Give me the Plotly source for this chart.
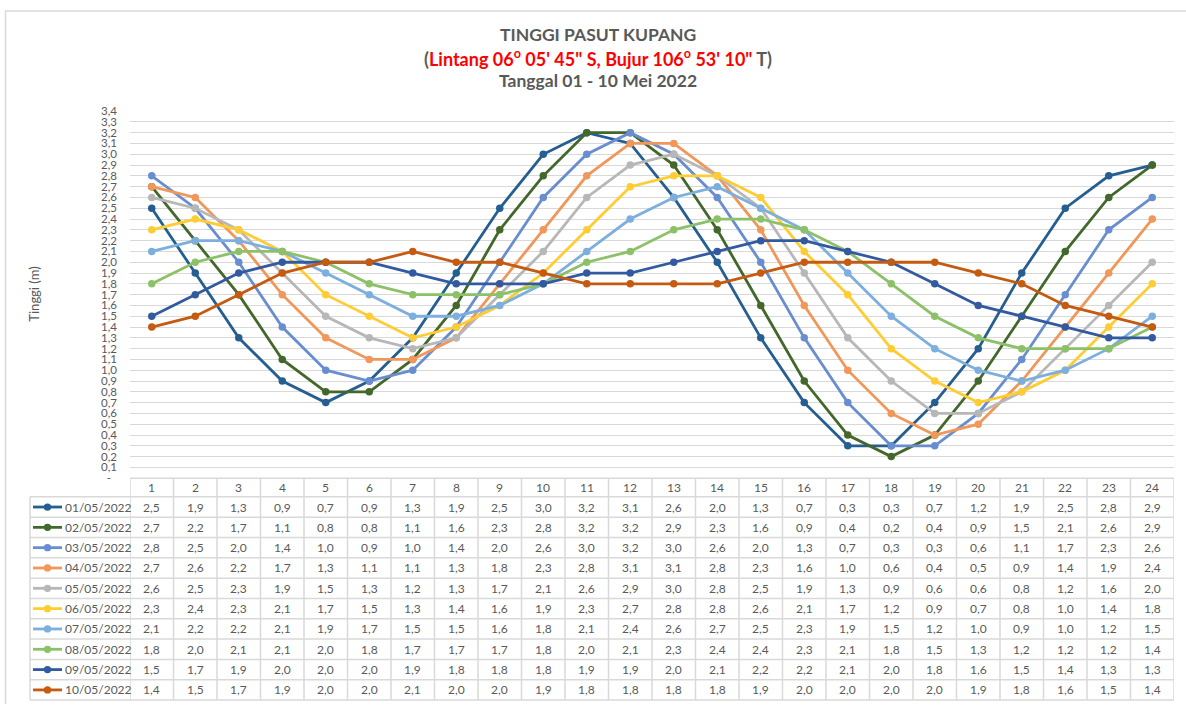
import plotly.graph_objects as go

# ---- data: hourly tide height (m), Kupang, 01-10 May 2022 ----
hours = list(range(1, 25))
dates = ["01/05/2022", "02/05/2022", "03/05/2022", "04/05/2022", "05/05/2022",
         "06/05/2022", "07/05/2022", "08/05/2022", "09/05/2022", "10/05/2022"]

h_0105 = [2.5, 1.9, 1.3, 0.9, 0.7, 0.9, 1.3, 1.9, 2.5, 3.0, 3.2, 3.1, 2.6, 2.0, 1.3, 0.7, 0.3, 0.3, 0.7, 1.2, 1.9, 2.5, 2.8, 2.9]
h_0205 = [2.7, 2.2, 1.7, 1.1, 0.8, 0.8, 1.1, 1.6, 2.3, 2.8, 3.2, 3.2, 2.9, 2.3, 1.6, 0.9, 0.4, 0.2, 0.4, 0.9, 1.5, 2.1, 2.6, 2.9]
h_0305 = [2.8, 2.5, 2.0, 1.4, 1.0, 0.9, 1.0, 1.4, 2.0, 2.6, 3.0, 3.2, 3.0, 2.6, 2.0, 1.3, 0.7, 0.3, 0.3, 0.6, 1.1, 1.7, 2.3, 2.6]
h_0405 = [2.7, 2.6, 2.2, 1.7, 1.3, 1.1, 1.1, 1.3, 1.8, 2.3, 2.8, 3.1, 3.1, 2.8, 2.3, 1.6, 1.0, 0.6, 0.4, 0.5, 0.9, 1.4, 1.9, 2.4]
h_0505 = [2.6, 2.5, 2.3, 1.9, 1.5, 1.3, 1.2, 1.3, 1.7, 2.1, 2.6, 2.9, 3.0, 2.8, 2.5, 1.9, 1.3, 0.9, 0.6, 0.6, 0.8, 1.2, 1.6, 2.0]
h_0605 = [2.3, 2.4, 2.3, 2.1, 1.7, 1.5, 1.3, 1.4, 1.6, 1.9, 2.3, 2.7, 2.8, 2.8, 2.6, 2.1, 1.7, 1.2, 0.9, 0.7, 0.8, 1.0, 1.4, 1.8]
h_0705 = [2.1, 2.2, 2.2, 2.1, 1.9, 1.7, 1.5, 1.5, 1.6, 1.8, 2.1, 2.4, 2.6, 2.7, 2.5, 2.3, 1.9, 1.5, 1.2, 1.0, 0.9, 1.0, 1.2, 1.5]
h_0805 = [1.8, 2.0, 2.1, 2.1, 2.0, 1.8, 1.7, 1.7, 1.7, 1.8, 2.0, 2.1, 2.3, 2.4, 2.4, 2.3, 2.1, 1.8, 1.5, 1.3, 1.2, 1.2, 1.2, 1.4]
h_0905 = [1.5, 1.7, 1.9, 2.0, 2.0, 2.0, 1.9, 1.8, 1.8, 1.8, 1.9, 1.9, 2.0, 2.1, 2.2, 2.2, 2.1, 2.0, 1.8, 1.6, 1.5, 1.4, 1.3, 1.3]
h_1005 = [1.4, 1.5, 1.7, 1.9, 2.0, 2.0, 2.1, 2.0, 2.0, 1.9, 1.8, 1.8, 1.8, 1.8, 1.9, 2.0, 2.0, 2.0, 2.0, 1.9, 1.8, 1.6, 1.5, 1.4]

series = [h_0105, h_0205, h_0305, h_0405, h_0505, h_0605, h_0705, h_0805, h_0905, h_1005]
colors = ["#255E91", "#43682B", "#698ED0", "#F1975A", "#B7B7B7",
          "#FFCD33", "#7CAFDD", "#8CC168", "#335AA1", "#C55A11"]

y_max = 3.4
y_step = 0.1

# ---- layout geometry (pixels) ----
W, H = 1186, 710
PLOT_L, PLOT_R, PLOT_T, PLOT_B = 130, 1174, 106, 480
HEAD_B = 499          # bottom of the hour header row
ROW_H = 20.7          # table row height
KEY_L = 30            # left edge of the series-name column
TITLE_X = 598         # horizontal centre of the title block

FONT = "Lato, Carlito, Calibri, sans-serif"
TXT = "#595959"
GRID = "#D9D9D9"


def px(x):
    return x / W


def py(y):
    return 1 - y / H


def fmt(v):
    return f"{v:.1f}".replace(".", ",")


def label(x, y, text, xref="paper", size=12, xanchor="center", **kw):
    return dict(x=x, y=y, xref=xref, yref="paper", text=text, showarrow=False,
                xanchor=xanchor, yanchor="middle",
                font=dict(family=FONT, size=size, color=kw.pop("color", TXT)), **kw)


fig = go.Figure()

for name, vals, col in zip(dates, series, colors):
    fig.add_trace(go.Scatter(
        x=hours, y=vals, mode="lines+markers", name=name,
        line=dict(color=col, width=2.8),
        marker=dict(size=7.5, color=col),
        hoverinfo="skip",
    ))

n_ticks = int(round(y_max / y_step)) + 1
yvals = [round(i * y_step, 1) for i in range(n_ticks)]
ytext = ["-  "] + [fmt(v) for v in yvals[1:]]

shapes = []
annotations = []

# table grid: horizontal lines
shapes.append(dict(type="line", xref="paper", yref="paper",
                   x0=px(PLOT_L), x1=px(PLOT_R), y0=py(PLOT_B), y1=py(PLOT_B),
                   line=dict(color=GRID, width=1.5)))
for i in range(len(dates) + 1):
    yy = py(HEAD_B + i * ROW_H)
    shapes.append(dict(type="line", xref="paper", yref="paper",
                       x0=px(KEY_L), x1=px(PLOT_R), y0=yy, y1=yy,
                       line=dict(color=GRID, width=1.5)))
# table grid: vertical lines on hour boundaries
for k in range(len(hours) + 1):
    shapes.append(dict(type="line", xref="x", yref="paper",
                       x0=k + 0.5, x1=k + 0.5,
                       y0=py(PLOT_B), y1=py(HEAD_B + len(dates) * ROW_H),
                       line=dict(color=GRID, width=1.5)))
shapes.append(dict(type="line", xref="paper", yref="paper",
                   x0=px(KEY_L), x1=px(KEY_L),
                   y0=py(HEAD_B), y1=py(HEAD_B + len(dates) * ROW_H),
                   line=dict(color=GRID, width=1.5)))

# chart-area outline (top and left)
shapes.append(dict(type="line", xref="paper", yref="paper",
                   x0=px(5), x1=1.0, y0=py(4), y1=py(4),
                   line=dict(color=GRID, width=1.5)))
shapes.append(dict(type="line", xref="paper", yref="paper",
                   x0=px(5.5), x1=px(5.5), y0=py(4), y1=0,
                   line=dict(color=GRID, width=1.5)))

# header row: hour numbers
for h in hours:
    annotations.append(label(h, py((PLOT_B + HEAD_B) / 2), str(h), xref="x"))

# table body: legend keys, names and values
for r, (name, vals, col) in enumerate(zip(dates, series, colors)):
    yc = py(HEAD_B + (r + 0.5) * ROW_H)
    shapes.append(dict(type="line", xref="paper", yref="paper",
                       x0=px(33), x1=px(62), y0=yc, y1=yc,
                       line=dict(color=col, width=2.8)))
    shapes.append(dict(type="circle", xref="paper", yref="paper",
                       x0=px(47.5 - 3.7), x1=px(47.5 + 3.7),
                       y0=yc - 3.7 / H, y1=yc + 3.7 / H,
                       fillcolor=col, line=dict(color=col, width=0)))
    annotations.append(label(px(63), yc, name, xanchor="left"))
    for h, v in zip(hours, vals):
        annotations.append(label(h, yc, fmt(v), xref="x"))

# titles
annotations.append(label(px(TITLE_X), py(28), "<b>TINGGI PASUT KUPANG</b>", size=17.5))
annotations.append(label(
    px(TITLE_X), py(52),
    "<b>(<span style='color:#FF0000'>Lintang 06<sup>o</sup> 05' 45\" S, "
    "Bujur 106<sup>o</sup> 53' 10\"</span> T)</b>", size=18))
annotations.append(label(px(TITLE_X), py(75), "<b>Tanggal 01 - 10 Mei 2022</b>", size=17.5))

# y-axis title
annotations.append(label(px(34), py(293), "Tinggi (m)", size=13, textangle=-90))

fig.update_layout(
    width=W, height=H,
    margin=dict(l=0, r=0, t=0, b=0),
    paper_bgcolor="white", plot_bgcolor="white",
    showlegend=False,
    hovermode=False,
    font=dict(family=FONT, color=TXT),
    shapes=shapes,
    annotations=annotations,
    xaxis=dict(domain=[px(PLOT_L), px(PLOT_R)], range=[0.5, 24.5],
               showticklabels=False, showgrid=False, zeroline=False,
               showline=False, ticks="", fixedrange=True),
    yaxis=dict(domain=[py(PLOT_B), py(PLOT_T)], range=[0, y_max],
               tickvals=yvals, ticktext=ytext,
               tickfont=dict(family=FONT, size=11.5, color=TXT),
               showgrid=True, gridcolor=GRID, gridwidth=1.3,
               zeroline=False, showline=False, ticks="",
               ticklabelstandoff=12, fixedrange=True),
)

fig.write_html("out.html", config={"displayModeBar": False},
               post_script="document.body.style.margin='0';document.body.style.overflow='hidden';")
